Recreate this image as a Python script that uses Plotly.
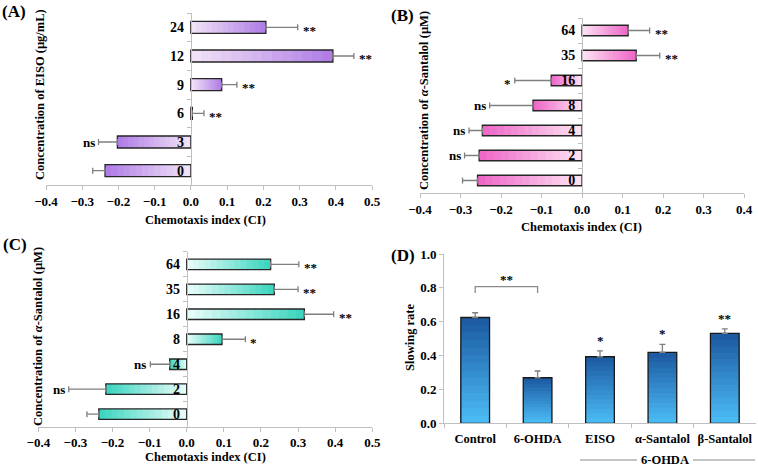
import plotly.graph_objects as go

W, H = 758, 467

# ---------------- data ----------------
# Panel A : EISO concentrations (ug/mL)
a_cats = ["0", "3", "6", "9", "12", "24"]
a_vals = [-0.237, -0.203, 0.004, 0.085, 0.392, 0.207]
a_errs = [0.034, 0.052, 0.032, 0.042, 0.058, 0.088]
a_sig = ["", "ns", "**", "**", "**", "**"]

# Panel B : alpha-Santalol (uM)
b_cats = ["0", "2", "4", "8", "16", "35", "64"]
b_vals = [-0.258, -0.254, -0.246, -0.121, -0.076, 0.134, 0.114]
b_errs = [0.037, 0.036, 0.033, 0.107, 0.090, 0.058, 0.053]
b_sig = ["", "ns", "ns", "ns", "*", "**", "**"]

# Panel C : alpha-Santalol (uM)
c_cats = ["0", "2", "4", "8", "16", "35", "64"]
c_vals = [-0.237, -0.218, -0.046, 0.095, 0.317, 0.236, 0.226]
c_errs = [0.032, 0.100, 0.052, 0.063, 0.079, 0.064, 0.076]
c_sig = ["", "ns", "ns", "*", "**", "**", "**"]

# Panel D : slowing rate
d_cats = ["Control", "6-OHDA", "EISO", "α-Santalol", "β-Santalol"]
d_vals = [0.625, 0.269, 0.393, 0.419, 0.531]
d_errs = [0.028, 0.040, 0.035, 0.047, 0.027]
d_sig = ["", "", "*", "*", "**"]
d_bracket_y = [0.77, 0.807, 0.807, 0.77]
d_bracket_label_y = 0.807

FONT = "Liberation Serif"
AXIS_GREY = "#bfbfbf"
ERR_GREY = "#7f7f7f"
STEPS = 14  # gradient shading steps (style only)


def px_x(p):
    return p / W


def px_y(p):
    return 1 - p / H


def mix(c1, c2, t):
    a = [int(c1[i:i + 2], 16) for i in (1, 3, 5)]
    b = [int(c2[i:i + 2], 16) for i in (1, 3, 5)]
    return "rgb(%d,%d,%d)" % tuple(round(a[j] + (b[j] - a[j]) * t) for j in range(3))


fig = go.Figure()
annotations = []
shapes = []


def gradient_bars(vals, cats, dark, light, orient, xa, ya):
    # shading only: overlaid bars of decreasing length, dark at the far end
    for k in range(STEPS):
        f = 1 - k / STEPS
        col = mix(dark, light, k / (STEPS - 1))
        scaled = [v * f for v in vals]
        if orient == "h":
            fig.add_trace(go.Bar(x=scaled, y=cats, orientation="h", xaxis=xa, yaxis=ya,
                                 marker=dict(color=col, line=dict(width=0)),
                                 showlegend=False, hoverinfo="skip"))
        else:
            fig.add_trace(go.Bar(x=cats, y=scaled, xaxis=xa, yaxis=ya, width=0.46,
                                 marker=dict(color=col, line=dict(width=0)),
                                 showlegend=False, hoverinfo="skip"))


def hpanel(idx, cats, vals, errs, sigs, dark, light, xdom, ydom, xrange, dtick):
    xa = "x" if idx == 1 else f"x{idx}"
    ya = "y" if idx == 1 else f"y{idx}"
    plus = [e if v >= 0 else 0 for v, e in zip(vals, errs)]
    minus = [e if v < 0 else 0 for v, e in zip(vals, errs)]
    gradient_bars(vals, cats, dark, light, "h", xa, ya)
    fig.add_trace(go.Bar(
        x=vals, y=cats, orientation="h", xaxis=xa, yaxis=ya,
        marker=dict(color="rgba(0,0,0,0)", line=dict(color="#262626", width=1.3)),
        error_x=dict(type="data", symmetric=False, array=plus, arrayminus=minus,
                     color=ERR_GREY, thickness=1.3, width=3),
        showlegend=False, hoverinfo="skip"))
    zero_pos = xdom[0] + (xdom[1] - xdom[0]) * (0 - xrange[0]) / (xrange[1] - xrange[0])
    key_x = "xaxis" if idx == 1 else f"xaxis{idx}"
    key_y = "yaxis" if idx == 1 else f"yaxis{idx}"
    fig.layout[key_x] = dict(
        domain=xdom, anchor=ya, range=xrange, dtick=dtick, tick0=0, tickformat=".1f",
        showline=True, linecolor=AXIS_GREY, linewidth=1, ticks="outside", ticklen=4,
        tickcolor=AXIS_GREY, showgrid=False, zeroline=False, tickangle=0, automargin=False,
        tickfont=dict(family=FONT, size=13, color="black", weight="bold"))
    fig.layout[key_y] = dict(
        domain=ydom, anchor="free", position=zero_pos, type="category",
        categoryorder="array", categoryarray=cats, range=[-0.5, len(cats) - 0.5],
        showline=True, linecolor=AXIS_GREY, linewidth=1, ticks="outside", ticklen=4,
        tickcolor=AXIS_GREY, tickson="boundaries", showgrid=False, zeroline=False,
        ticklabelstandoff=4, automargin=False,
        tickfont=dict(family=FONT, size=14, color="black", weight="bold"))
    for i, (v, e, s) in enumerate(zip(vals, errs, sigs)):
        if not s:
            continue
        end = v + e if v >= 0 else v - e
        annotations.append(dict(
            x=end, y=i, xref=xa, yref=ya, text=s, showarrow=False,
            xanchor="left" if v >= 0 else "right", yanchor="middle",
            xshift=3 if v >= 0 else -2,
            yshift=-3 if "*" in s else 0,
            font=dict(family=FONT, size=13, color="black", weight="bold")))


hpanel(1, a_cats, a_vals, a_errs, a_sig, "#b07ee6", "#f0e2f7",
       [px_x(46), px_x(372)], [px_y(185), px_y(13)], [-0.4, 0.5], 0.1)
hpanel(2, b_cats, b_vals, b_errs, b_sig, "#ee68c8", "#fce0f2",
       [px_x(420), px_x(744)], [px_y(193), px_y(18)], [-0.4, 0.4], 0.1)
hpanel(3, c_cats, c_vals, c_errs, c_sig, "#3ed6c0", "#e6fcf8",
       [px_x(38.3), px_x(372.3)], [px_y(426.7), px_y(251.8)], [-0.4, 0.5], 0.1)

# ---------------- panel D ----------------
gradient_bars(d_vals, d_cats, "#1d5ba3", "#4abaf3", "v", "x4", "y4")
fig.add_trace(go.Bar(
    x=d_cats, y=d_vals, xaxis="x4", yaxis="y4", width=0.46,
    marker=dict(color="rgba(0,0,0,0)", line=dict(color="#1a1a1a", width=1.3)),
    error_y=dict(type="data", symmetric=False, array=d_errs, arrayminus=[0] * len(d_errs),
                 color=ERR_GREY, thickness=1.3, width=3),
    showlegend=False, hoverinfo="skip"))
fig.add_trace(go.Scatter(
    x=[d_cats[0], d_cats[0], d_cats[1], d_cats[1]], y=d_bracket_y,
    xaxis="x4", yaxis="y4", mode="lines", line=dict(color="#8c8c8c", width=1.3),
    showlegend=False, hoverinfo="skip"))
fig.layout["xaxis4"] = dict(
    domain=[px_x(444), px_x(756)], anchor="y4", type="category",
    categoryorder="array", categoryarray=d_cats, range=[-0.5, len(d_cats) - 0.5],
    showline=True, linecolor=AXIS_GREY, ticks="outside", ticklen=4, tickcolor=AXIS_GREY,
    tickson="boundaries", showgrid=False, zeroline=False, ticklabelstandoff=4, tickangle=0,
    automargin=False,
    tickfont=dict(family=FONT, size=12.5, color="black", weight="bold"))
fig.layout["yaxis4"] = dict(
    domain=[px_y(423.3), px_y(254)], anchor="x4", range=[0, 1.0], dtick=0.2,
    tickformat=".1f", showline=True, linecolor=AXIS_GREY, ticks="outside", ticklen=4,
    tickcolor=AXIS_GREY, showgrid=False, zeroline=False, automargin=False,
    tickfont=dict(family=FONT, size=13, color="black", weight="bold"))
for i, (v, e, s) in enumerate(zip(d_vals, d_errs, d_sig)):
    if s:
        annotations.append(dict(x=i, y=v + e, xref="x4", yref="y4", text=s,
                                showarrow=False, xanchor="center", yanchor="bottom", yshift=1,
                                font=dict(family=FONT, size=13, color="black", weight="bold")))
annotations.append(dict(x=0.5, y=d_bracket_label_y, xref="x4", yref="y4", text="**",
                        showarrow=False, xanchor="center", yanchor="bottom", yshift=-2,
                        font=dict(family=FONT, size=13, color="black", weight="bold")))

# group label under panel D
annotations.append(dict(x=px_x(665), y=px_y(460), xref="paper", yref="paper", text="6-OHDA",
                        xanchor="center", yanchor="middle",
                        showarrow=False, font=dict(family=FONT, size=12.5, color="black", weight="bold")))
shapes.append(dict(type="line", xref="paper", yref="paper", x0=px_x(580), x1=px_x(637),
                   y0=px_y(460), y1=px_y(460), line=dict(color="#8c8c8c", width=1.2)))
shapes.append(dict(type="line", xref="paper", yref="paper", x0=px_x(693), x1=px_x(755),
                   y0=px_y(460), y1=px_y(460), line=dict(color="#8c8c8c", width=1.2)))

# ---------------- titles & panel labels ----------------
tfont = dict(family=FONT, size=12.5, color="black", weight="bold")
titles = [
    ("Chemotaxis index (CI)", 205, 220, 0),
    ("Chemotaxis index (CI)", 581, 227, 0),
    ("Chemotaxis index (CI)", 205, 457, 0),
    ("Concentration of EISO (µg/mL)", 40, 95, -90),
    ("Concentration of <i>α</i>-Santalol (µM)", 424, 101, -90),
    ("Concentration of <i>α</i>-Santalol (µM)", 38, 337, -90),
    ("Slowing rate", 410, 338, -90),
]
for t, xp, yp, ang in titles:
    annotations.append(dict(x=px_x(xp), y=px_y(yp), xref="paper", yref="paper", text=t,
                            textangle=ang, showarrow=False, xanchor="center", yanchor="middle",
                            font=tfont))
for t, xp, yp in [("(A)", 14, 12), ("(B)", 402, 15), ("(C)", 15, 245), ("(D)", 403, 255)]:
    annotations.append(dict(x=px_x(xp), y=px_y(yp), xref="paper", yref="paper", text=t,
                            showarrow=False, xanchor="center", yanchor="middle",
                            font=dict(family=FONT, size=17, color="black", weight="bold")))

fig.update_layout(
    width=W, height=H, margin=dict(l=0, r=0, t=0, b=0, autoexpand=False),
    paper_bgcolor="white", plot_bgcolor="white",
    barmode="overlay", bargap=0.58,
    annotations=annotations, shapes=shapes,
)

fig.write_html("out.html")
